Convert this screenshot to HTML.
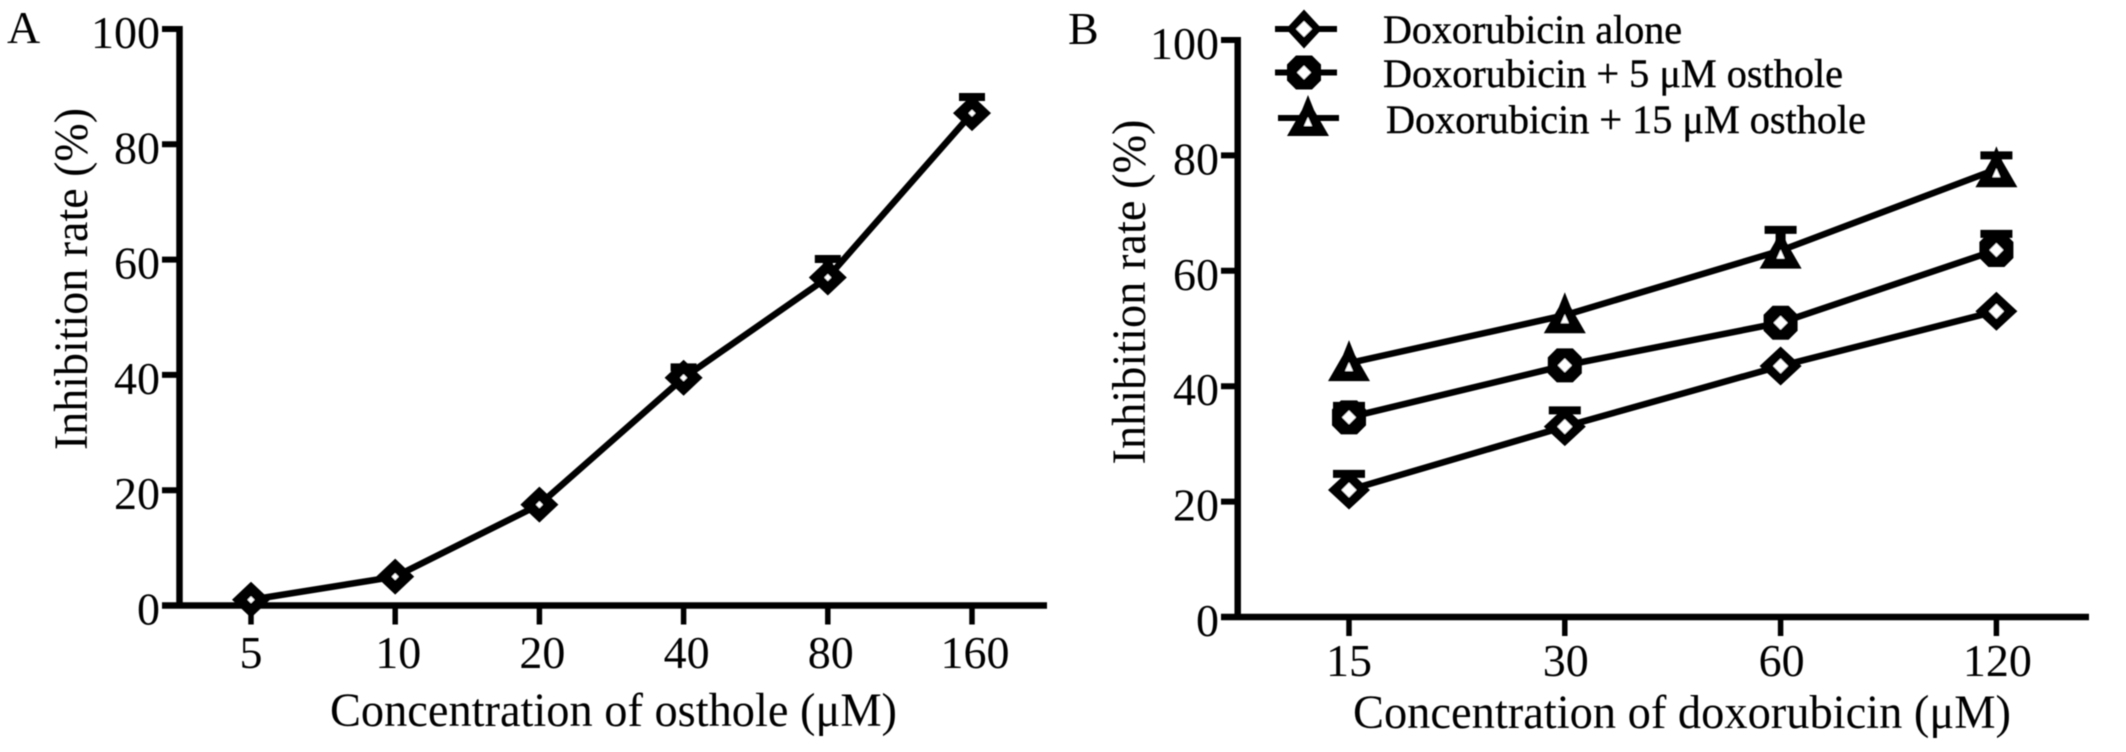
<!DOCTYPE html>
<html lang="en">
<head>
<meta charset="utf-8">
<title>Inhibition rate charts</title>
<style>
html,body{margin:0;padding:0;background:#fff;width:2126px;height:752px;overflow:hidden}
svg{display:block}
text{font-family:"Liberation Serif","DejaVu Serif",serif;fill:#000}
.tick{font-size:46px}
.title{font-size:48px}
.leg{font-size:40px;stroke:#000;stroke-width:0.4px}
</style>
</head>
<body>
<svg id="chart" xmlns="http://www.w3.org/2000/svg" width="2126" height="752" viewBox="0 0 2126 752">
<defs><filter id="soft" x="-2%" y="-2%" width="104%" height="104%"><feGaussianBlur stdDeviation="0.5"/></filter></defs>
<rect width="2126" height="752" fill="#fff"/>
<g id="root" filter="url(#soft)">
<text x="7" y="43" font-size="46">A</text>
<text x="1068" y="44" font-size="46">B</text>
<text class="title" transform="translate(87,279) rotate(-90)" text-anchor="middle" textLength="342" lengthAdjust="spacingAndGlyphs">Inhibition rate (%)</text>
<text class="title" transform="translate(1145,292) rotate(-90)" text-anchor="middle" textLength="345" lengthAdjust="spacingAndGlyphs">Inhibition rate (%)</text>
<text class="title" x="330" y="726" textLength="567" lengthAdjust="spacingAndGlyphs">Concentration of osthole (μM)</text>
<text class="title" x="1353" y="728" textLength="658" lengthAdjust="spacingAndGlyphs">Concentration of doxorubicin (μM)</text>
<g>
<text class="leg" x="1383" y="43" textLength="299" lengthAdjust="spacingAndGlyphs">Doxorubicin alone</text>
<text class="leg" x="1383" y="87" textLength="460" lengthAdjust="spacingAndGlyphs">Doxorubicin + 5 μM osthole</text>
<text class="leg" x="1386" y="133" textLength="480" lengthAdjust="spacingAndGlyphs">Doxorubicin + 15 μM osthole</text>
</g>
<g id="marks"></g>
</g>
</svg>
<script>
const yTickLabels = [0, 20, 40, 60, 80, 100];
const catsA = ['5', '10', '20', '40', '80', '160'];
const seriesA = [1, 5, 17.5, 39.5, 56.9, 85.4];
const errA = [0, 0, 0, 1.8, 3.2, 2.8];
const catsB = ['15', '30', '60', '120'];
const seriesAlone = [22, 33, 43.5, 53];
const errAlone = [2.8, 2.8, 0, 0];
const series5 = [34.6, 43.6, 51, 63.6];
const err5 = [2, 0, 0, 2.8];
const series15 = [44, 52.3, 63.5, 77.6];
const err15 = [0, 0, 3.6, 2.4];

const NS = 'http://www.w3.org/2000/svg';
const marks = document.getElementById('marks');
const LW = 6.5;

function xA(i) { return 251 + i * 144.2; }
function yA(v) { return 605.5 - v * 5.765; }
function xB(i) { return 1349 + i * 215.8; }
function yB(v) { return 617 - v * 5.77; }

function make(tag, attrs, parent) {
  const n = document.createElementNS(NS, tag);
  for (const k in attrs) n.setAttribute(k, attrs[k]);
  (parent || marks).appendChild(n);
  return n;
}
function line(x1, y1, x2, y2, w) {
  return make('line', { x1: x1, y1: y1, x2: x2, y2: y2, stroke: '#000', 'stroke-width': w });
}
function label(x, y, str, anchor) {
  const t = make('text', { x: x, y: y, 'text-anchor': anchor, class: 'tick' });
  t.textContent = str;
  return t;
}
function poly(parent, pts, fill) {
  return make('polygon', { points: pts.join(' '), fill: fill }, parent);
}
function diamond(x, y, hw, hh, hole) {
  const g = make('g', {});
  poly(g, [x, y - hh, x + hw, y, x, y + hh, x - hw, y], '#000');
  poly(g, [x, y - hole, x + hole, y, x, y + hole, x - hole, y], '#fff');
  return g;
}
function markerA(x, y) { return diamond(x, y, 19, 18, 3.5); }
function markerB(x, y) { return diamond(x, y, 21, 19.5, 7.5); }
function markerLegend(x, y) { return diamond(x, y, 18, 19.5, 8); }
function octagon(x, y) {
  const g = make('g', {});
  const r = 17, s = 8;
  poly(g, [x - s, y - r, x + s, y - r, x + r, y - s, x + r, y + s, x + s, y + r, x - s, y + r, x - r, y + s, x - r, y - s], '#000');
  poly(g, [x, y - 7, x + 7, y, x, y + 7, x - 7, y], '#fff');
  return g;
}
function triangle(x, y) {
  const g = make('g', {});
  poly(g, [x, y - 23, x + 6, y - 8, x + 21, y + 18, x - 21, y + 18, x - 6, y - 8], '#000');
  poly(g, [x, y - 1, x + 4, y + 8, x - 4, y + 8], '#fff');
  return g;
}

function drawAxes(prefix, xf, yf, cats, left, right, axisX, labelRight, labelY, labelShift) {
  const ya = line(axisX, yf(100) - 3, axisX, yf(0) + 3, 6.5);
  
  
  const xa = line(left, yf(0), right, yf(0), 6.5);
  
  
  yTickLabels.forEach(function (v) {
    const tk = line(left, yf(v), axisX, yf(v), 6);
    
    
    const tx = label(labelRight, yf(v) + 19, String(v), 'end');
    
    
  });
  cats.forEach(function (c, i) {
    const tk = line(xf(i), yf(0), xf(i), yf(0) + 19, 5.5);
    
    
    const tx = label(xf(i) + (i ? labelShift : 0), labelY, c, 'middle');
    
    
  });
}

function drawSeries(name, vals, errs, xf, yf, markerFn, capHalf) {
  const pts = vals.map(function (v, i) { return xf(i) + ',' + yf(v); }).join(' ');
  const pl = make('polyline', { points: pts, fill: 'none', stroke: '#000', 'stroke-width': LW });
  
  
  vals.forEach(function (v, i) {
    if (errs[i] > 0) {
      const top = yf(v + errs[i]);
      const stem = line(xf(i), yf(v), xf(i), top, 10);
      
      
      const cap = line(xf(i) - capHalf, top, xf(i) + capHalf, top, 8);
      
      
    }
    const m = markerFn(xf(i), yf(v));
    
    
  });
}

drawAxes('panel-a', xA, yA, catsA, 162, 1047, 179.5, 160, 668, 3);
drawAxes('panel-b', xB, yB, catsB, 1221, 2089, 1237.7, 1219, 676, 1);
drawSeries('inhibition', seriesA, errA, xA, yA, markerA, 13);
drawSeries('doxorubicin-alone', seriesAlone, errAlone, xB, yB, markerB, 16);
drawSeries('doxorubicin-5um', series5, err5, xB, yB, octagon, 16);
drawSeries('doxorubicin-15um', series15, err15, xB, yB, triangle, 16);

const legendRows = [[29, markerLegend, 1275, 1337, 1304], [72.5, octagon, 1275, 1337, 1304], [118, triangle, 1278, 1339, 1308]];
legendRows.forEach(function (r) {
  const ln = line(r[2], r[0], r[3], r[0], 6);
  
  
  const mk = r[1](r[4], r[0]);
  
  
});
</script>
</body>
</html>
